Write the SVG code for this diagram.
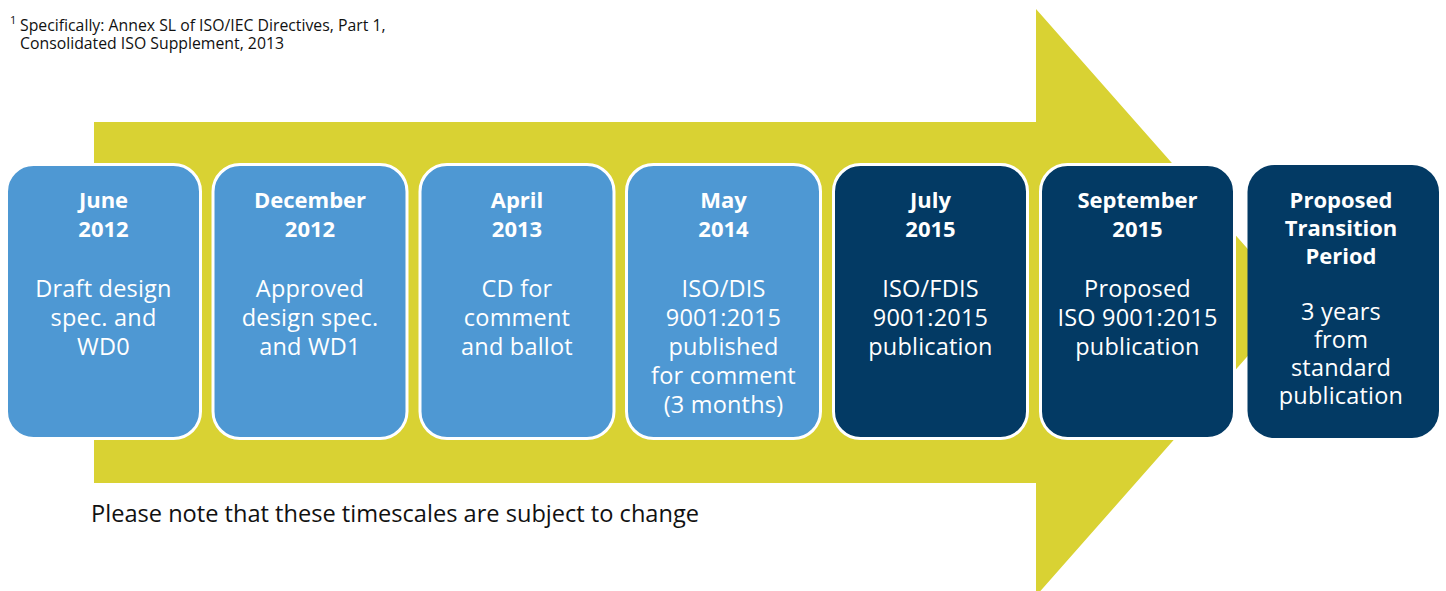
<svg xmlns="http://www.w3.org/2000/svg" width="1446" height="591" viewBox="0 0 1446 591">
<style>
.box{stroke:#fff;stroke-width:3}
.light{fill:#4E98D3}
.dark{fill:#033A64}
.t{font-family:"Open Sans","Noto Sans",sans-serif;fill:#fff;text-anchor:middle;font-size:23.5px;letter-spacing:0.2px}
.b{font-weight:bold;font-size:22px;letter-spacing:0}
.note{font-family:"Open Sans","Noto Sans",sans-serif;fill:#111}
</style>
<rect width="1446" height="591" fill="#fff"/>
<g id="arrow">
<polygon points="94,122 1036,122 1036,9 1295,302.5 1036,596 1036,483 94,483" fill="#D9D233"/>
</g>
<g id="footnote" class="note">
<text x="10" y="24" font-size="11">1</text>
<text x="20" y="31" font-size="15.8">Specifically: Annex SL of ISO/IEC Directives, Part 1,</text>
<text x="20" y="49" font-size="15.8">Consolidated ISO Supplement, 2013</text>
</g>
<g id="n1">
<rect class="box light" x="6.5" y="164.5" width="194" height="274" rx="27"/>
<text class="t b" x="103.5" y="208">June</text>
<text class="t b" x="103.5" y="237">2012</text>
<text class="t" x="103.5" y="297">Draft design</text>
<text class="t" x="103.5" y="326">spec. and</text>
<text class="t" x="103.5" y="355">WD0</text>
</g>
<g id="n2">
<rect class="box light" x="213" y="164.5" width="194" height="274" rx="27"/>
<text class="t b" x="310" y="208">December</text>
<text class="t b" x="310" y="237">2012</text>
<text class="t" x="310" y="297">Approved</text>
<text class="t" x="310" y="326">design spec.</text>
<text class="t" x="310" y="355">and WD1</text>
</g>
<g id="n3">
<rect class="box light" x="420" y="164.5" width="194" height="274" rx="27"/>
<text class="t b" x="517" y="208">April</text>
<text class="t b" x="517" y="237">2013</text>
<text class="t" x="517" y="297">CD for</text>
<text class="t" x="517" y="326">comment</text>
<text class="t" x="517" y="355">and ballot</text>
</g>
<g id="n4">
<rect class="box light" x="626.5" y="164.5" width="194" height="274" rx="27"/>
<text class="t b" x="723.5" y="208">May</text>
<text class="t b" x="723.5" y="237">2014</text>
<text class="t" x="723.5" y="297">ISO/DIS</text>
<text class="t" x="723.5" y="326">9001:2015</text>
<text class="t" x="723.5" y="355">published</text>
<text class="t" x="723.5" y="384">for comment</text>
<text class="t" x="723.5" y="413">(3 months)</text>
</g>
<g id="n5">
<rect class="box dark" x="833.5" y="164.5" width="194" height="274" rx="27"/>
<text class="t b" x="930.5" y="208">July</text>
<text class="t b" x="930.5" y="237">2015</text>
<text class="t" x="930.5" y="297">ISO/FDIS</text>
<text class="t" x="930.5" y="326">9001:2015</text>
<text class="t" x="930.5" y="355">publication</text>
</g>
<g id="n6">
<rect class="box dark" x="1040.5" y="164.5" width="194" height="274" rx="27"/>
<text class="t b" x="1137.5" y="208">September</text>
<text class="t b" x="1137.5" y="237">2015</text>
<text class="t" x="1137.5" y="297">Proposed</text>
<text class="t" x="1137.5" y="326">ISO 9001:2015</text>
<text class="t" x="1137.5" y="355">publication</text>
</g>
<g id="n7">
<rect class="dark" x="1247.5" y="165" width="191.5" height="273" rx="27"/>
<text class="t b" x="1341" y="208">Proposed</text>
<text class="t b" x="1341" y="236">Transition</text>
<text class="t b" x="1341" y="264">Period</text>
<text class="t" x="1341" y="320">3 years</text>
<text class="t" x="1341" y="348">from</text>
<text class="t" x="1341" y="376">standard</text>
<text class="t" x="1341" y="404">publication</text>
</g>
<g id="caption">
<text class="note" x="91" y="522" font-size="23.6">Please note that these timescales are subject to change</text>
</g>
</svg>
